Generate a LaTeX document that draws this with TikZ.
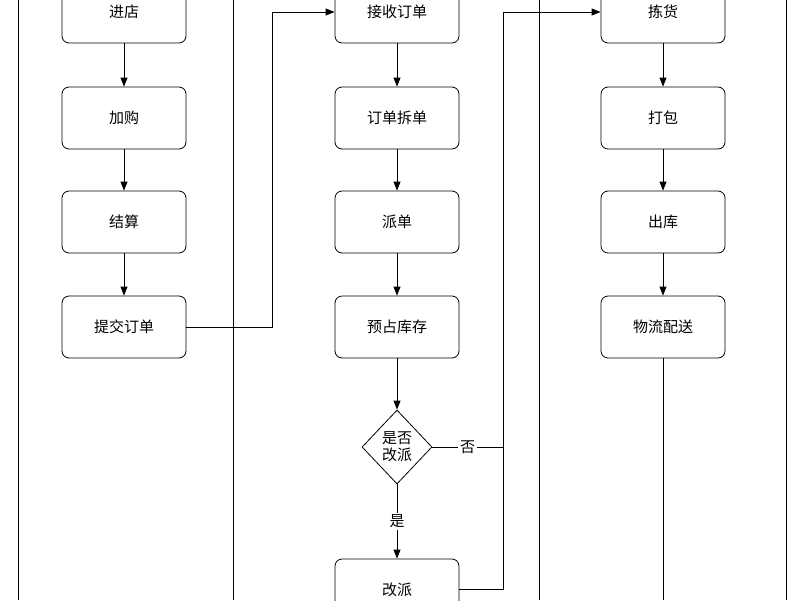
\documentclass[tikz,border=0pt]{standalone}
\usepackage{fontspec}
\newfontfamily\cjk{Noto Sans CJK SC}
\usetikzlibrary{shapes.geometric,arrows.meta}
\begin{document}
\begin{tikzpicture}[x=1pt,y=-1pt,
 box/.style={draw,thick,rounded corners=7pt,minimum width=124pt,minimum height=62pt,font=\cjk\fontsize{15}{18}\selectfont,fill=white},
 dia/.style={draw,thick,diamond,minimum width=70pt,minimum height=74pt,inner sep=0pt,align=center,font=\cjk\fontsize{15}{17}\selectfont,fill=white},
 lane/.style={thick},
 arr/.style={thick,-{Triangle[length=9pt,width=7pt]}},
 lbl/.style={fill=white,font=\cjk\fontsize{15}{18}\selectfont,inner sep=2pt}]
\useasboundingbox (0,0) rectangle (800,600);
\fill[white] (0,0) rectangle (800,600);
\foreach \x in {18,233,539,786} \draw[lane] (\x,0) -- (\x,600);
\node[box] (a1) at (124,12) {进店};
\node[box] (a2) at (124,118) {加购};
\node[box] (a3) at (124,222) {结算};
\node[box] (a4) at (124,327) {提交订单};
\node[box] (b1) at (397,12) {接收订单};
\node[box] (b2) at (397,118) {订单拆单};
\node[box] (b3) at (397,222) {派单};
\node[box] (b4) at (397,327) {预占库存};
\node[dia] (d) at (397,447) {是否\\改派};
\node[box] (b5) at (397,590) {改派};
\node[box] (c1) at (663,12) {拣货};
\node[box] (c2) at (663,118) {打包};
\node[box] (c3) at (663,222) {出库};
\node[box] (c4) at (663,327) {物流配送};
\coordinate (c5) at (663,600);
\coordinate (j) at (503,447);
\draw[arr] (a1) -- (a2);
\draw[arr] (a2) -- (a3);
\draw[arr] (a3) -- (a4);
\draw[arr] (b1) -- (b2);
\draw[arr] (b2) -- (b3);
\draw[arr] (b3) -- (b4);
\draw[arr] (b4) -- (d);
\draw[arr] (d) -- node[lbl]{是} (b5);
\draw[arr] (c1) -- (c2);
\draw[arr] (c2) -- (c3);
\draw[arr] (c3) -- (c4);
\draw[thick] (c4) -- (c5);
\draw[arr] (a4.east) -- (272,327) -- (272,12) -- (b1.west);
\draw[arr] (b5.east |- 0,589) -- (503,589) -- (503,12) -- (c1.west);
\draw[thick] (d.east) -- node[lbl]{否} (j);
\end{tikzpicture}
\end{document}
